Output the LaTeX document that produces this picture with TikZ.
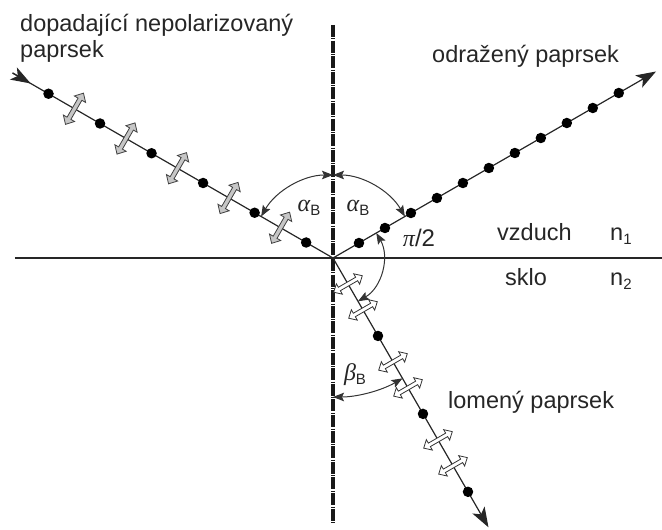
\documentclass[tikz,border=0pt]{standalone}
\usepackage{fontspec}
\setmainfont{Liberation Sans}
\newfontfamily\grk{Liberation Serif}
\usetikzlibrary{arrows.meta}
\tikzset{
  ray/.style={line width=1.2pt, black!85},
  rayhead/.style={-{Stealth[length=20pt,width=14pt,inset=5pt]}},
  pdot/.style={circle, fill=black, inner sep=0pt, minimum size=10.5pt},
  angarc/.style={line width=1pt, black!80, {Stealth[length=11pt,width=8.5pt,inset=2pt]}-{Stealth[length=11pt,width=8.5pt,inset=2pt]}},
  lbl/.style={anchor=base west, inner sep=0pt, text=black!85, font=\fontsize{23.5}{26}\selectfont},
  glbl/.style={inner sep=0pt, text=black!85, font=\fontsize{24}{26}\selectfont},
  pics/parrA/.style={code={
    \filldraw[fill=gray!45, draw=black!75, line width=0.8pt]
      (-18,0) -- (-11,6.5) -- (-11,2.2) -- (11,2.2) -- (11,6.5) -- (18,0)
      -- (11,-6.5) -- (11,-2.2) -- (-11,-2.2) -- (-11,-6.5) -- cycle;}},
  pics/parrB/.style={code={
    \filldraw[fill=white, draw=black!80, line width=0.8pt]
      (-16.5,0) -- (-10,6) -- (-10,2) -- (10,2) -- (10,6) -- (16.5,0)
      -- (10,-6) -- (10,-2) -- (-10,-2) -- (-10,-6) -- cycle;}}
}
\begin{document}
\begin{tikzpicture}[x=1pt,y=1pt]
\useasboundingbox (-333,-272) rectangle (329,258);
\coordinate (O) at (0,0);
% interface and normal
\coordinate (hL) at (-318,0);
\coordinate (hR) at (329,0);
\draw[line width=1.3pt, black!85] (hL) -- (hR);
\coordinate (nT) at (0,233);
\coordinate (nB) at (0,-265);
\draw[line width=3.5pt, black!90, dash pattern=on 12pt off 1.5pt on 0.6pt off 1.5pt] (nT) -- (nB);
% incident ray
\coordinate (iS) at (150:370pt);
\coordinate (iH) at (150:349pt);
\draw[ray] (iS) -- (O);
\draw[ray, rayhead] (iS) -- (iH);
\foreach \d [count=\k] in {31,90.5,150,209.5,269,328.5}
  \node[pdot] (i\k) at (150:\d pt) {};
\foreach \d in {60.5,120,179.5,239,298.5}
  \pic[rotate=60] at (150:\d pt) {parrA};
% reflected ray
\coordinate (rE) at (30:373pt);
\draw[ray, rayhead] (O) -- (rE);
\foreach \d [count=\k] in {30,60,...,330}
  \node[pdot] (r\k) at (30:\d pt) {};
% refracted ray
\coordinate (tE) at (-60:311pt);
\draw[ray, rayhead] (O) -- (tE);
\foreach \d [count=\k] in {90,180,270}
  \node[pdot] (t\k) at (-60:\d pt) {};
\foreach \d in {30,60,120,150,210,240}
  \pic[rotate=30] at (-60:\d pt) {parrB};
% angle arcs
\draw[angarc] (150:83pt) arc[start angle=150, end angle=90, radius=83pt];
\draw[angarc] (90:83pt) arc[start angle=90, end angle=30, radius=83pt];
\draw[angarc] (30:50pt) arc[start angle=30, end angle=-60, radius=50pt];
\draw[angarc] (-90:139pt) arc[start angle=-90, end angle=-60, radius=139pt];
% angle labels
\node[glbl] (aL) at (-24,50) {{\grk\itshape α}\raisebox{-4pt}{\fontsize{15}{16}\selectfont B}};
\node[glbl] (aR) at (25,50) {{\grk\itshape α}\raisebox{-4pt}{\fontsize{15}{16}\selectfont B}};
\node[glbl] (pi) at (86,20) {{\grk\itshape π}/2};
\node[glbl] (bB) at (22,-117) {{\grk\itshape β}\raisebox{-4pt}{\fontsize{15}{16}\selectfont B}};
% text labels
\node[lbl] (l1) at (-313,226) {dopadající nepolarizovaný};
\node[lbl] (l2) at (-313,200) {paprsek};
\node[lbl] (l3) at (99,195) {odražený paprsek};
\node[lbl] (l4) at (164,17) {vzduch};
\node[lbl] (l5) at (277,17) {n\raisebox{-4pt}{\fontsize{15}{16}\selectfont 1}};
\node[lbl] (l6) at (172,-28) {sklo};
\node[lbl] (l7) at (277,-28) {n\raisebox{-4pt}{\fontsize{15}{16}\selectfont 2}};
\node[lbl] (l8) at (115,-150) {lomený paprsek};
\end{tikzpicture}
\end{document}
